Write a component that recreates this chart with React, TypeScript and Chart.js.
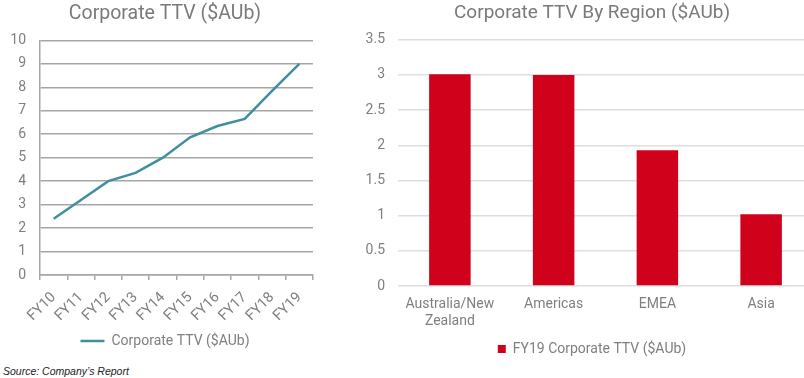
import React, { useEffect, useRef } from "react";
import Chart from "chart.js/auto";

const years = ["FY10", "FY11", "FY12", "FY13", "FY14", "FY15", "FY16", "FY17", "FY18", "FY19"];
const corporateTTV = [2.4, 3.2, 4.0, 4.35, 5.0, 5.87, 6.35, 6.65, 7.85, 9.0];
const lineSeriesName = "Corporate TTV ($AUb)";
const lineTitle = "Corporate TTV ($AUb)";

const regions = [["Australia/New", "Zealand"], "Americas", "EMEA", "Asia"];
const regionTTV = [3.01, 3.0, 1.93, 1.02];
const barSeriesName = "FY19 Corporate TTV ($AUb)";
const barTitle = "Corporate TTV By Region ($AUb)";

const sourceNote = "Source: Company\u2019s Report";

const FONT = "Roboto, 'Noto Sans', sans-serif";
const TEXT = "#7f7f7f";

export default function App() {
  const leftRef = useRef<HTMLCanvasElement | null>(null);
  const rightRef = useRef<HTMLCanvasElement | null>(null);

  useEffect(() => {
    const left = new Chart(leftRef.current as HTMLCanvasElement, {
      type: "line",
      data: {
        labels: years,
        datasets: [
          {
            label: lineSeriesName,
            data: corporateTTV,
            borderColor: "#3f8f9f",
            backgroundColor: "#3f8f9f",
            borderWidth: 2.5,
            pointRadius: 0,
            tension: 0,
            yAxisID: "y",
          },
        ],
      },
      options: {
        responsive: false,
        animation: false,
        layout: { padding: 0 },
        plugins: {
          title: {
            display: true,
            text: lineTitle,
            color: "#7a7a7a",
            font: { family: FONT, size: 19.5, weight: "normal" },
            padding: { top: 2, bottom: 15 },
          },
          legend: {
            position: "bottom",
            labels: {
              color: TEXT,
              font: { family: FONT, size: 14 },
              usePointStyle: true,
              pointStyle: "line",
              pointStyleWidth: 24,
              boxHeight: 14,
              padding: 10,
            },
          },
          tooltip: { enabled: false },
        },
        scales: {
          x: {
            offset: true,
            grid: {
              display: true,
              offset: true,
              drawOnChartArea: false,
              drawTicks: true,
              tickLength: 5,
              color: "#a6a6a6",
              lineWidth: 1.5,
            },
            border: { display: true, color: "#a6a6a6", width: 1.5 },
            ticks: {
              color: TEXT,
              font: { family: FONT, size: 14.5 },
              minRotation: 45,
              maxRotation: 45,
              autoSkip: false,
              padding: 9,
            },
            afterFit: (s: any) => {
              s.height = 49;
            },
          },
          y: {
            min: 0,
            max: 10,
            ticks: {
              stepSize: 1,
              color: TEXT,
              font: { family: FONT, size: 14 },
              padding: 14,
            },
            grid: { color: "#a6a6a6", lineWidth: 1.5, drawTicks: false },
            border: { display: true, color: "#a6a6a6", width: 1.5 },
            afterFit: (s: any) => {
              s.width = 40;
            },
          },
          yPad: {
            position: "right",
            display: true,
            grid: { display: false },
            ticks: { display: false },
            border: { display: false },
            afterFit: (s: any) => {
              s.width = 17;
            },
          },
        },
      } as any,
    });

    const right = new Chart(rightRef.current as HTMLCanvasElement, {
      type: "bar",
      data: {
        labels: regions as any,
        datasets: [
          {
            label: barSeriesName,
            data: regionTTV,
            backgroundColor: "#d0021b",
            borderWidth: 0,
            categoryPercentage: 1,
            barPercentage: 0.4,
            yAxisID: "y",
          },
        ],
      },
      options: {
        responsive: false,
        animation: false,
        layout: { padding: 0 },
        plugins: {
          title: {
            display: true,
            text: barTitle,
            color: "#7a7a7a",
            font: { family: FONT, size: 19, weight: "normal" },
            padding: { top: 2, bottom: 15 },
          },
          legend: {
            position: "bottom",
            labels: {
              color: TEXT,
              font: { family: FONT, size: 14 },
              boxWidth: 8,
              boxHeight: 8,
              padding: 10,
            },
          },
          tooltip: { enabled: false },
        },
        scales: {
          x: {
            grid: { display: false, drawTicks: false },
            border: { display: false },
            ticks: {
              color: TEXT,
              font: { family: FONT, size: 14 },
              padding: 10,
              maxRotation: 0,
            },
            afterFit: (s: any) => {
              s.height = 46;
            },
          },
          y: {
            min: 0,
            max: 3.5,
            ticks: {
              stepSize: 0.5,
              color: TEXT,
              font: { family: FONT, size: 14 },
              padding: 13,
              callback: (v: any) => String(Number(v)),
            },
            grid: { color: "#dedede", lineWidth: 1.5, drawTicks: false },
            border: { display: false },
            afterFit: (s: any) => {
              s.width = 43;
            },
          },
          yPad: {
            position: "right",
            display: true,
            grid: { display: false },
            ticks: { display: false },
            border: { display: false },
            afterFit: (s: any) => {
              s.width = 16;
            },
          },
        },
      } as any,
    });

    return () => {
      left.destroy();
      right.destroy();
    };
  }, []);

  return (
    <div
      style={{
        position: "fixed",
        left: 0,
        top: 0,
        width: 804,
        height: 378,
        overflow: "hidden",
        background: "#ffffff",
      }}
    >
      <canvas
        ref={leftRef}
        width={330}
        height={358}
        style={{ position: "absolute", left: 0, top: 0, display: "block" }}
      />
      <canvas
        ref={rightRef}
        width={474}
        height={366}
        style={{ position: "absolute", left: 355, top: 0, display: "block" }}
      />
      <div
        style={{
          position: "absolute",
          left: 3,
          top: 365,
          fontFamily: "'Liberation Sans', Arial, sans-serif",
          fontStyle: "italic",
          fontSize: 10.5,
          lineHeight: "13px",
          color: "#222",
          whiteSpace: "nowrap",
        }}
      >
        {sourceNote}
      </div>
    </div>
  );
}
